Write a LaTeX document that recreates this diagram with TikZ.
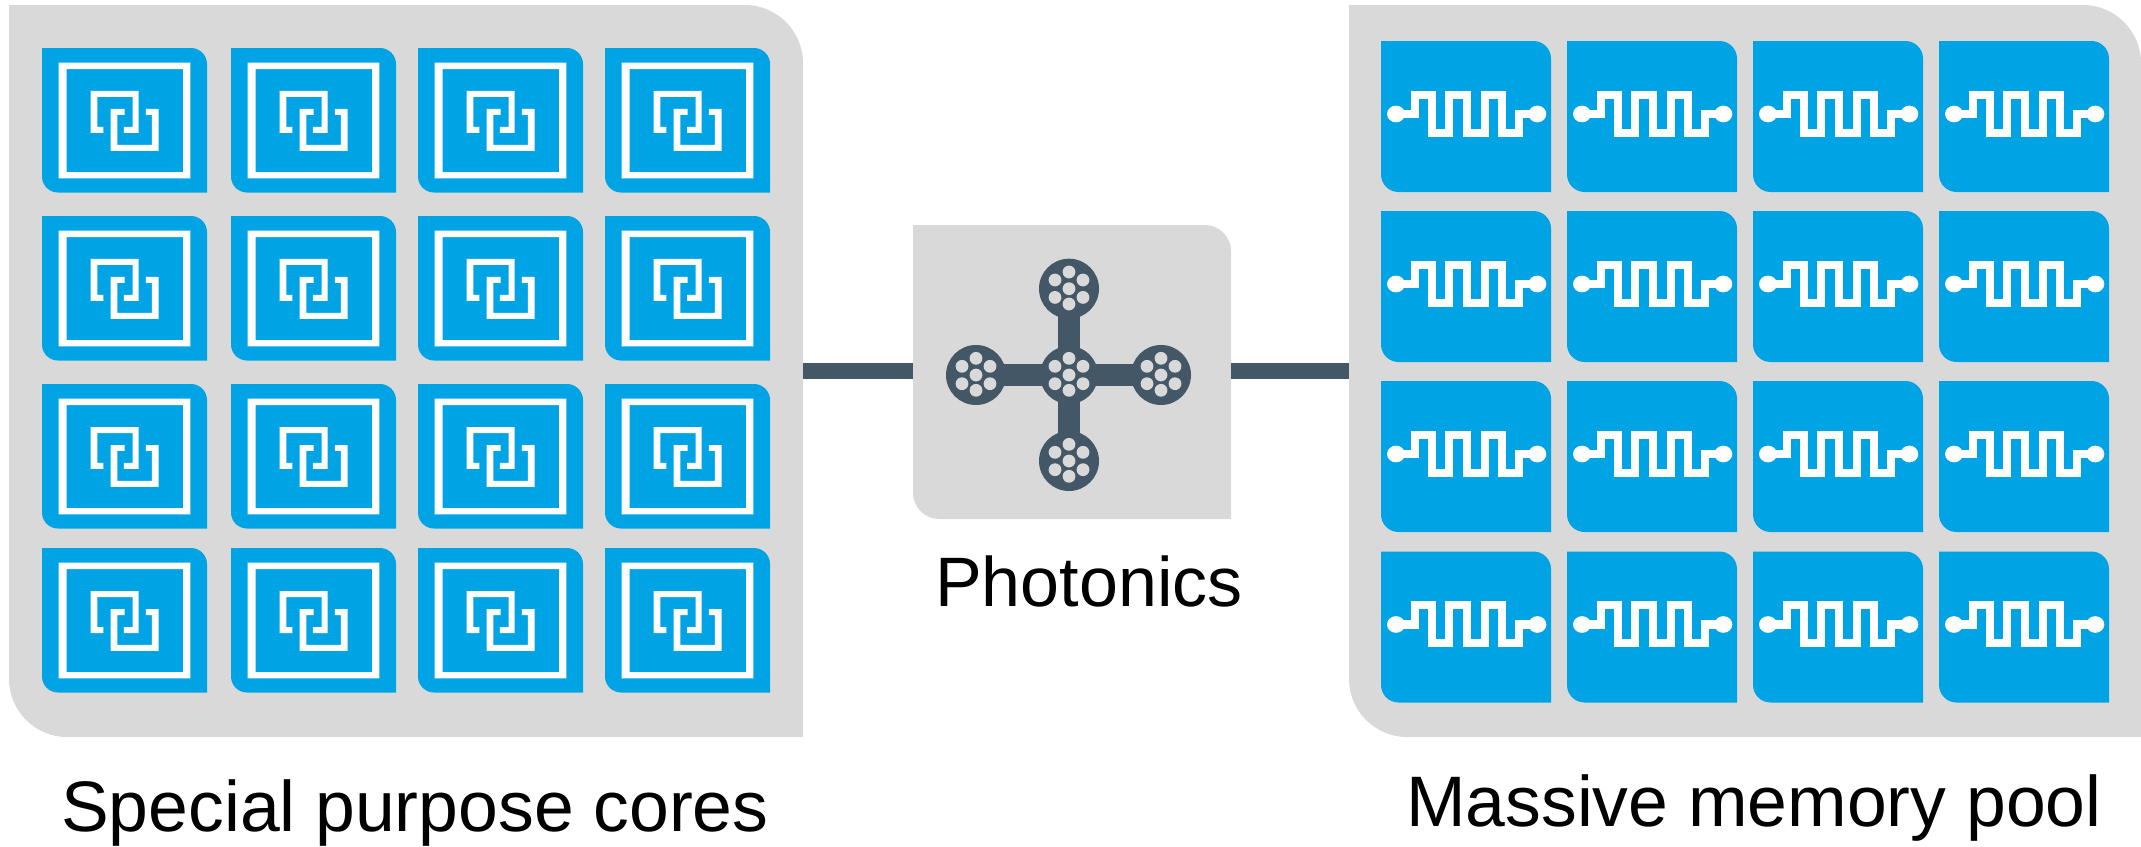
\documentclass[tikz,border=0pt]{standalone}
\usepackage{fontspec}
\setmainfont{Liberation Sans}
\definecolor{panelgray}{HTML}{D9D9D9}
\definecolor{cellblue}{HTML}{00A4E4}
\definecolor{hubdark}{HTML}{435766}
\newcommand\tabfill[6]{\fill[#1] (#2,#3) -- ({#4-#6},#3) .. controls ({#4-.45*#6},#3) and (#4,{#3+.45*#6}) .. (#4,{#3+#6}) -- (#4,#5) -- ({#2+#6},#5) .. controls ({#2+.45*#6},#5) and (#2,{#5-.45*#6}) .. (#2,{#5-#6}) -- cycle;}
\newcommand\corecell[2]{%
 \tabfill{cellblue}{#1}{#2}{#1+165}{#2+144.5}{16}
 \begin{scope}[shift={(#1,#2)},white]
  \fill[even odd rule] (16.7,14.7) rectangle (148.3,130.3) (24.7,21) rectangle (141,124);
  \begin{scope}[x=.3333pt,y=-.3333pt]
   \fill (146,129) -- (290,129) -- (290,255) -- (246,255) -- (246,237) -- (272,237) -- (272,147) -- (166,147) -- (166,237) -- (184,237) -- (184,255) -- (146,255) -- cycle;
   \fill (206,183) -- (248,183) -- (248,201) -- (226,201) -- (226,291) -- (330,291) -- (330,201) -- (312,201) -- (312,183) -- (350,183) -- (350,309) -- (206,309) -- cycle;
  \end{scope}
 \end{scope}}
\newcommand\memcell[2]{%
 \tabfill{cellblue}{#1}{#2}{#1+170}{#2+151}{17.5}
 \begin{scope}[shift={(#1,#2)},white]
  \begin{scope}[x=.3333pt,y=-.3333pt]
   \draw[line width=8.2pt,line join=miter] (45,219) -- (101,219) -- (101,161) -- (152,161) -- (152,275) -- (205,275) -- (205,161) -- (258,161) -- (258,275) -- (311,275) -- (311,161) -- (363,161) -- (363,275) -- (414,275) -- (414,219) -- (469,219);
   \fill (45,219) ellipse [x radius=27,y radius=25];
   \fill (469,219) ellipse [x radius=27,y radius=25];
  \end{scope}
 \end{scope}}
\newcommand\hubdisc[4]{%
 \fill[hubdark] (#1,#2) ellipse [x radius=#3,y radius=#4];
 \foreach \dx/\dy in {0/-16.7,0/0,0/15.3,-14/-8.7,14/-8.7,-14/8.7,14/8.7}
  \fill[panelgray] ({#1+\dx},{#2+\dy}) circle [radius=6.4];}
\tikzset{
 panelnode/.style={rectangle,inner sep=0pt,outer sep=0pt,anchor=north west},
 linkbar/.style={draw=hubdark,line width=16pt},
 caption/.style={anchor=base west,inner sep=0pt,font=\fontsize{71.5}{80}\selectfont,text=black}
}
\begin{document}
\begin{tikzpicture}[x=1pt,y=-1pt]
\useasboundingbox (0,0) rectangle (2141,846);
\tabfill{panelgray}{9}{5}{803}{737}{58}
\tabfill{panelgray}{1349}{5}{2141}{737}{58}
\tabfill{panelgray}{913}{225}{1231}{519}{26}
\node[panelnode,minimum width=794pt,minimum height=732pt] (cores) at (9,5) {};
\node[panelnode,minimum width=792pt,minimum height=732pt] (memory) at (1349,5) {};
\node[panelnode,minimum width=318pt,minimum height=294pt] (photonics) at (913,225) {};
\coordinate (linkrow) at (0,371);
\draw[linkbar] (cores.east |- linkrow) -- (photonics.west |- linkrow);
\draw[linkbar] (photonics.east |- linkrow) -- (memory.west |- linkrow);
\foreach \cx in {42,231,418,605}
 \foreach \cy in {48,216,384,548}
  {\corecell{\cx}{\cy}}
\foreach \mx in {1381,1567,1753,1939}
 \foreach \my in {41,211,381,551.5}
  {\memcell{\mx}{\my}}
\fill[hubdark] (976,363.5) rectangle (1161,385.7);
\fill[hubdark] (1058.2,289) rectangle (1080,461);
\hubdisc{1069}{375}{29}{29}
\hubdisc{1069}{288.7}{30}{30}
\hubdisc{1069}{461}{30}{30}
\hubdisc{976}{375}{30}{30}
\hubdisc{1161}{375}{30}{30}
\node[caption] (corecaption) at (61,831) {Special purpose cores};
\node[caption] (memcaption) at (1406,826) {Massive memory pool};
\node[caption,font=\fontsize{70}{80}\selectfont] (photocaption) at (935,606) {Photonics};
\end{tikzpicture}
\end{document}
